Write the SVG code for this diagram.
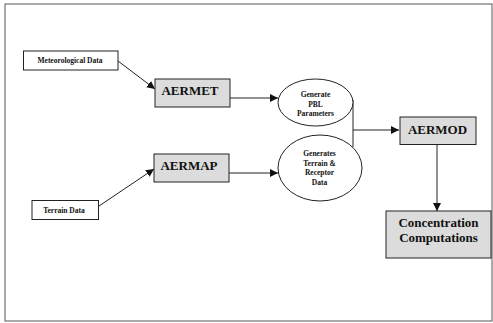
<svg xmlns="http://www.w3.org/2000/svg" width="493" height="323" viewBox="0 0 493 323">
<style>
text{font-family:"Liberation Serif","Times New Roman",serif;font-weight:bold;fill:#111;text-anchor:middle}
.s{font-size:7.5px}
.b{font-size:13px}
.box{fill:#fff;stroke:#222;stroke-width:1}
.gbox{fill:#dcdcdc;stroke:#222;stroke-width:1}
.ell{fill:#fff;stroke:#222;stroke-width:1}
.c{fill:none;stroke:#222;stroke-width:1}
</style>
<defs>
<marker id="ah" viewBox="0 0 10 10" refX="10" refY="5" markerWidth="8" markerHeight="8" markerUnits="userSpaceOnUse" orient="auto">
<path d="M0,0 L10,5 L0,10 Z" fill="#111"/>
</marker>
</defs>
<rect x="0" y="0" width="493" height="323" fill="#fff"/>
<rect x="5" y="4" width="487" height="317" fill="none" stroke="#555" stroke-width="1"/>
<g id="connectors">
<line class="c" x1="118" y1="61" x2="155" y2="89" marker-end="url(#ah)"/>
<line class="c" x1="99" y1="206" x2="154" y2="169" marker-end="url(#ah)"/>
<line class="c" x1="230" y1="98" x2="278" y2="98" marker-end="url(#ah)"/>
<line class="c" x1="229" y1="173" x2="278" y2="173" marker-end="url(#ah)"/>
<line class="c" x1="353" y1="100" x2="353" y2="147"/>
<line class="c" x1="353" y1="130" x2="399" y2="130" marker-end="url(#ah)"/>
<line class="c" x1="437" y1="145" x2="437" y2="211" marker-end="url(#ah)"/>
</g>
<g id="met">
<rect class="box" x="23.5" y="51" width="94.5" height="19"/>
<text class="s" x="70" y="63">Meteorological Data</text>
</g>
<g id="terrain">
<rect class="box" x="32" y="200.5" width="66.5" height="19"/>
<text class="s" x="64" y="213">Terrain Data</text>
</g>
<g id="aermet">
<rect class="gbox" x="155" y="79" width="75" height="28"/>
<text class="b" x="190" y="95">AERMET</text>
</g>
<g id="aermap">
<rect class="gbox" x="154" y="154" width="75" height="28"/>
<text class="b" x="189" y="170">AERMAP</text>
</g>
<g id="pbl">
<ellipse class="ell" cx="315.5" cy="102.5" rx="37.5" ry="23.5"/>
<text class="s" x="315.5" y="97">Generate</text>
<text class="s" x="315.5" y="106.5">PBL</text>
<text class="s" x="315.5" y="116">Parameters</text>
</g>
<g id="terrgen">
<ellipse class="ell" cx="320" cy="168" rx="42" ry="33"/>
<text class="s" x="319.5" y="156">Generates</text>
<text class="s" x="319.5" y="165.5">Terrain &amp;</text>
<text class="s" x="319.5" y="175">Receptor</text>
<text class="s" x="319.5" y="184.5">Data</text>
</g>
<g id="aermod">
<rect class="gbox" x="400" y="117" width="76" height="27.5" stroke-width="2.2"/>
<text class="b" x="437.5" y="133.5">AERMOD</text>
</g>
<g id="conc">
<rect class="gbox" x="386" y="211" width="105" height="47"/>
<text class="b" x="438.5" y="227">Concentration</text>
<text class="b" x="438.5" y="242">Computations</text>
</g>
</svg>
